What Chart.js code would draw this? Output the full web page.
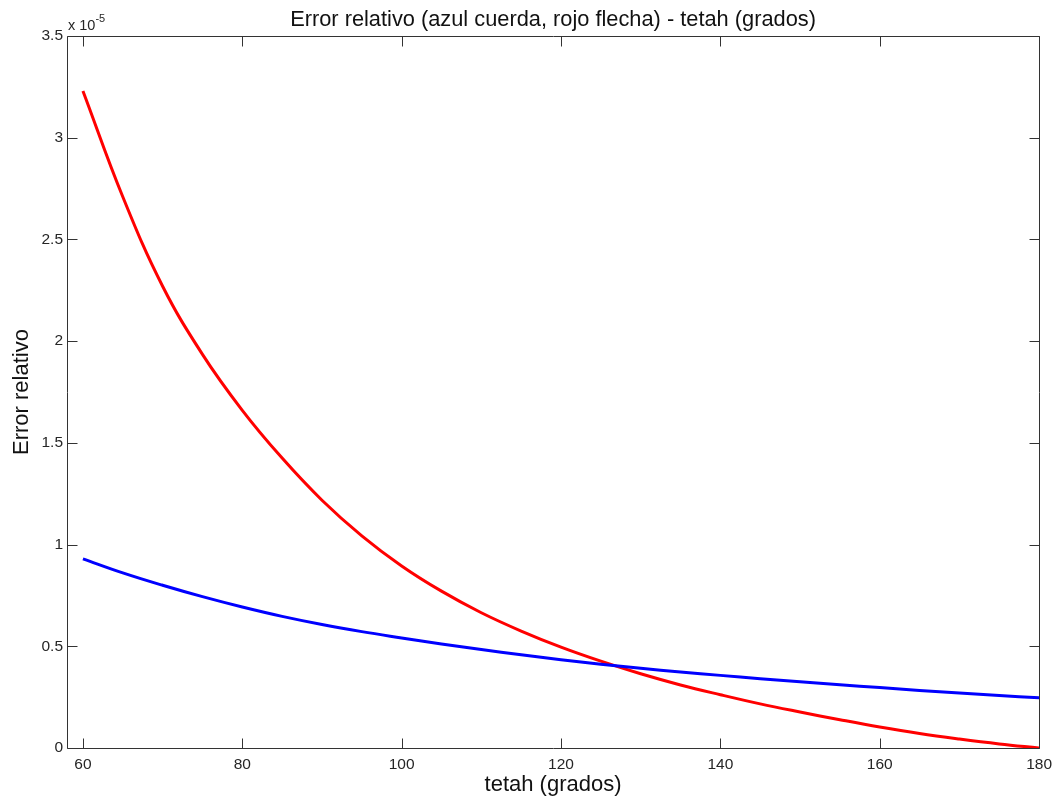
<!DOCTYPE html>
<html>
<head>
<meta charset="utf-8">
<title>Error relativo</title>
<script src="https://cdn.jsdelivr.net/npm/chart.js@4/dist/chart.umd.min.js"></script>
<style>
    html, body { margin: 0; padding: 0; background: #fff; }
    #errorChart { display: block; }
</style>
</head>
<body>
<canvas id="errorChart" width="1059" height="796"></canvas>
<script>
// Angle in degrees
const theta = [60, 65, 70, 75, 80, 85, 90, 95, 100, 105, 110, 115, 120,
               125, 130, 135, 140, 145, 150, 155, 160, 165, 170, 175, 180];

// Relative error (x 1e-5) - blue: chord ("cuerda")
const errCuerda = [0.930, 0.861, 0.800, 0.744, 0.693, 0.647, 0.607, 0.572, 0.541,
                   0.511, 0.484, 0.458, 0.434, 0.412, 0.392, 0.374, 0.357, 0.341,
                   0.326, 0.311, 0.297, 0.283, 0.270, 0.258, 0.247];

// Relative error (x 1e-5) - red: sagitta ("flecha")
const errFlecha = [3.23, 2.71, 2.27, 1.935, 1.66, 1.425, 1.218, 1.043, 0.895,
                   0.771, 0.665, 0.575, 0.496, 0.427, 0.365, 0.310, 0.262, 0.217,
                   0.177, 0.139, 0.103, 0.071, 0.044, 0.020, 0.0];

const xTicks = [60, 80, 100, 120, 140, 160, 180];
const yTicks = [0, 0.5, 1, 1.5, 2, 2.5, 3, 3.5];

const FONT = '"Liberation Sans", Arial, Helvetica, sans-serif';
const AXIS_COLOR = '#333';
const TICK_LEN = 10;

// Box around the plot, inward tick marks on all four sides, title and exponent
const matlabFrame = {
    id: 'matlabFrame',
    afterDraw(chart) {
        const ctx = chart.ctx;
        const a = chart.chartArea;
        const xs = chart.scales.x;
        const ys = chart.scales.y;
        const L = Math.round(a.left) + 0.5, R = Math.round(a.right) + 0.5;
        const T = Math.round(a.top) + 0.5, B = Math.round(a.bottom) + 0.5;

        ctx.save();
        ctx.strokeStyle = AXIS_COLOR;
        ctx.lineWidth = 1;
        ctx.beginPath();
        ctx.rect(L, T, R - L, B - T);
        xTicks.forEach(v => {
            const px = Math.round(xs.getPixelForValue(v)) + 0.5;
            ctx.moveTo(px, B); ctx.lineTo(px, B - TICK_LEN);
            ctx.moveTo(px, T); ctx.lineTo(px, T + TICK_LEN);
        });
        yTicks.forEach(v => {
            const py = Math.round(ys.getPixelForValue(v)) + 0.5;
            ctx.moveTo(L, py); ctx.lineTo(L + TICK_LEN, py);
            ctx.moveTo(R, py); ctx.lineTo(R - TICK_LEN, py);
        });
        ctx.stroke();

        // title
        ctx.fillStyle = '#111';
        ctx.textAlign = 'center';
        ctx.textBaseline = 'middle';
        ctx.font = '21.8px ' + FONT;
        ctx.fillText('Error relativo (azul cuerda, rojo flecha) - tetah (grados)', (a.left + a.right) / 2, 20);

        // exponent of the y axis
        ctx.fillStyle = '#262626';
        ctx.textAlign = 'left';
        ctx.textBaseline = 'alphabetic';
        ctx.font = '14.5px ' + FONT;
        ctx.fillText('x 10', a.left + 1, 30);
        const w = ctx.measureText('x 10').width;
        ctx.font = '11px ' + FONT;
        ctx.fillText('-5', a.left + 1 + w, 22);
        ctx.restore();
    }
};

function createChart() {
    const ctx = document.getElementById('errorChart').getContext('2d');

    new Chart(ctx, {
        type: 'line',
        data: {
            datasets: [{
                label: 'cuerda',
                data: theta.map((t, i) => ({ x: t, y: errCuerda[i] })),
                borderColor: '#0000ff',
                borderWidth: 3,
                pointRadius: 0,
                tension: 0.4
            }, {
                label: 'flecha',
                data: theta.map((t, i) => ({ x: t, y: errFlecha[i] })),
                borderColor: '#ff0000',
                borderWidth: 3,
                pointRadius: 0,
                tension: 0.4
            }]
        },
        options: {
            responsive: false,
            animation: false,
            layout: {
                padding: { top: 36, right: 17, left: 0, bottom: 0 }
            },
            plugins: {
                legend: { display: false },
                tooltip: { enabled: false },
                title: { display: false }
            },
            scales: {
                x: {
                    type: 'linear',
                    min: 58,
                    max: 180,
                    afterBuildTicks: scale => { scale.ticks = xTicks.map(v => ({ value: v })); },
                    afterFit: scale => { scale.height = 48; },
                    grid: { display: false, drawTicks: false },
                    border: { display: false },
                    ticks: {
                        color: '#262626',
                        font: { family: FONT, size: 15.5 },
                        padding: 7,
                        maxRotation: 0
                    },
                    title: {
                        display: true,
                        text: 'tetah (grados)',
                        color: '#111',
                        font: { family: FONT, size: 22, lineHeight: 1 },
                        padding: 0
                    }
                },
                y: {
                    min: 0,
                    max: 3.5,
                    afterBuildTicks: scale => { scale.ticks = yTicks.map(v => ({ value: v })); },
                    afterFit: scale => { scale.width = 67; },
                    grid: { display: false, drawTicks: false },
                    border: { display: false },
                    ticks: {
                        color: '#262626',
                        font: { family: FONT, size: 15.5 },
                        padding: 4,
                        callback: v => String(v)
                    },
                    title: {
                        display: true,
                        text: 'Error relativo',
                        color: '#111',
                        font: { family: FONT, size: 22, lineHeight: 1 },
                        padding: { top: 11 }
                    }
                }
            }
        },
        plugins: [matlabFrame]
    });
}

document.addEventListener('DOMContentLoaded', createChart);
</script>
</body>
</html>
